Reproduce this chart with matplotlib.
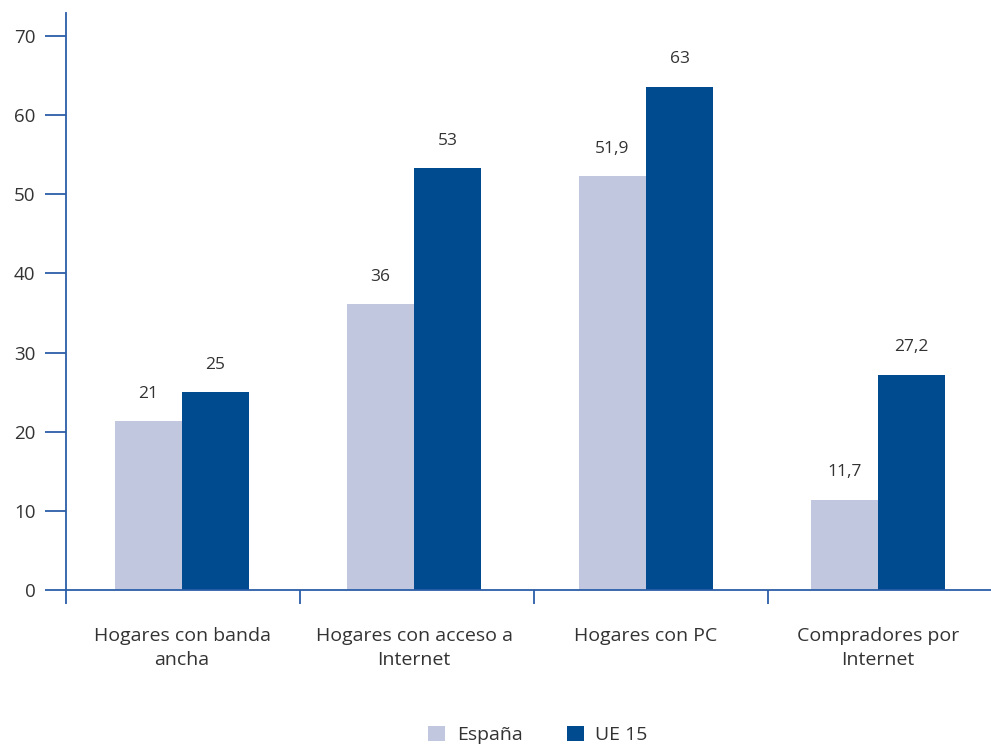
import numpy as np
import matplotlib.pyplot as plt

categorias = ['Hogares con banda\nancha', 'Hogares con acceso a\nInternet',
              'Hogares con PC', 'Compradores por\nInternet']
espana = [21.3, 36.1, 52.3, 11.4]
ue15 = [25.0, 53.3, 63.6, 27.2]
etiq_espana = ['21', '36', '51,9', '11,7']
etiq_ue15 = ['25', '53', '63', '27,2']

c_esp = '#c2c7e0'
c_ue = '#004a8f'
c_eje = '#2b5ea8'
c_txt = '#333333'

plt.rcParams['font.family'] = ['Open Sans', 'DejaVu Sans']

fig = plt.figure(figsize=(9.91, 7.44), dpi=100)
ax = fig.add_axes([0.0666, 0.207, 0.9334, 0.7755])

x = np.arange(len(categorias))
w = 0.289
b1 = ax.bar(x - w / 2, espana, w, color=c_esp, label='España')
b2 = ax.bar(x + w / 2, ue15, w, color=c_ue, label='UE 15')

for bars, labels in ((b1, etiq_espana), (b2, etiq_ue15)):
    for r, t in zip(bars, labels):
        ax.annotate(t, (r.get_x() + r.get_width() / 2, r.get_height()),
                    xytext=(0, 14), textcoords='offset points',
                    ha='center', va='bottom', fontsize=12.5, color=c_txt)

ax.set_xlim(-0.5, 3.487)
ax.set_ylim(0, 72.9)
ax.set_yticks(range(0, 71, 10))
ax.set_yticklabels([str(v) for v in range(0, 71, 10)], fontsize=13.5, color=c_txt)

# ticks between groups (slightly wider spacing than the bars), labels centred on groups
sep = [-0.5 + k * 234 / 232 for k in range(4)]
ax.set_xticks(sep)
ax.set_xticklabels([])
ax.set_xticks(x, minor=True)
ax.set_xticklabels(categorias, minor=True, fontsize=14, color=c_txt, linespacing=1.4)
ax.tick_params(axis='x', which='major', length=10, width=1.3, color=c_eje, direction='out')
ax.tick_params(axis='x', which='minor', length=0, pad=27)
ax.tick_params(axis='y', length=15, width=1.3, color=c_eje, pad=7)

for s in ['top', 'right']:
    ax.spines[s].set_visible(False)
for s in ['left', 'bottom']:
    ax.spines[s].set_color(c_eje)
    ax.spines[s].set_linewidth(1.3)

fig.legend(loc='lower center', bbox_to_anchor=(0.543, -0.024), ncol=2, frameon=False,
           fontsize=14, labelcolor=c_txt, handlelength=0.85, handleheight=0.85,
           columnspacing=2.3, handletextpad=0.6)

fig.savefig('out.png', dpi=100)
